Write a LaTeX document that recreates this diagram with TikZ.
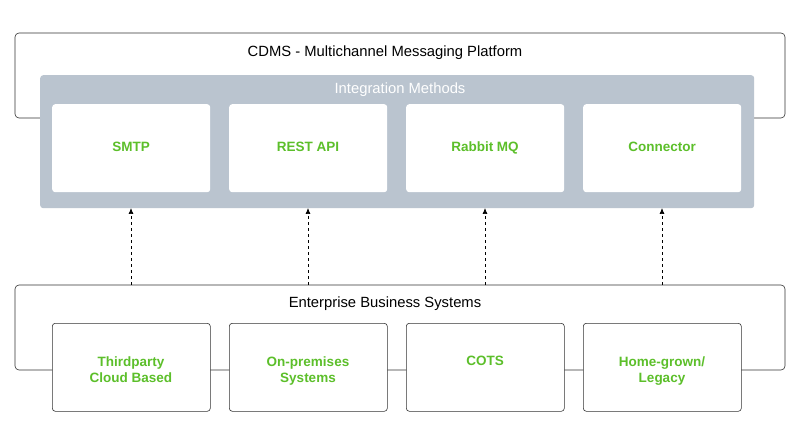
\documentclass[tikz,border=0pt]{standalone}
\usepackage{fontspec}
\setmainfont{Liberation Sans}
\usetikzlibrary{arrows.meta}
\definecolor{grn}{HTML}{5CBF2A}
\definecolor{gry}{HTML}{BAC4CF}
\begin{document}
\begin{tikzpicture}[x=1pt,y=-1pt,
  outer/.style={draw=black!80,line width=0.6pt,rounded corners=4pt,fill=white},
  lab/.style={font=\bfseries\fontsize{13.5}{16.5}\selectfont,text=grn,align=center,text height=10pt,text depth=3pt},
  box/.style={draw=black!80,line width=0.6pt,rounded corners=3pt,fill=white,minimum width=158pt,minimum height=88pt,anchor=north west},
  wbox/.style={fill=white,rounded corners=3pt,minimum width=158pt,minimum height=88pt,anchor=north west},
  ttl/.style={font=\fontsize{14.8}{17}\selectfont},
  arr/.style={dashed,line width=0.7pt,-{Latex[length=6pt,width=5pt]}}]
\useasboundingbox (0,0) rectangle (800,446);
\fill[white] (0,0) rectangle (800,446);
\draw[outer] (15,33) rectangle (785,118);
\node[ttl] (t1) at (385,53) {CDMS - Multichannel Messaging Platform};
\node[fill=gry,rounded corners=3pt,minimum width=714pt,minimum height=133pt,anchor=north west] (g) at (40,75) {};
\node[ttl,text=white] (t2) at (400,90) {Integration Methods};
\node[wbox] (a1) at (52,104) {};
\node[wbox] (a2) at (229,104) {};
\node[wbox] (a3) at (406,104) {};
\node[wbox] (a4) at (583,104) {};
\node[lab] (l1) at (131,148) {SMTP};
\node[lab] (l2) at (308,148) {REST API};
\node[lab] (l3) at (485,148) {Rabbit MQ};
\node[lab] (l4) at (662,148) {Connector};
\draw[outer] (15,285) rectangle (785,370);
\node[ttl] (t3) at (385,304) {Enterprise Business Systems};
\node[box] (b1) at (52,323) {};
\node[box] (b2) at (229,323) {};
\node[box] (b3) at (406,323) {};
\node[box] (b4) at (583,323) {};
\node[lab] (m1) at (131,379) {Thirdparty\\Cloud Based};
\node[lab] (m2) at (308,379) {On-premises\\Systems};
\node[lab] (m3) at (485,362) {COTS};
\node[lab] (m4) at (662,379) {Home-grown/\\Legacy};
\coordinate (c1) at (131,285); \coordinate (c2) at (308,285);
\coordinate (c3) at (485,285); \coordinate (c4) at (662,285);
\coordinate (d1) at (131,208); \coordinate (d2) at (308,208);
\coordinate (d3) at (485,208); \coordinate (d4) at (662,208);
\draw[arr] (c1) -- (d1);
\draw[arr] (c2) -- (d2);
\draw[arr] (c3) -- (d3);
\draw[arr] (c4) -- (d4);
\end{tikzpicture}
\end{document}
